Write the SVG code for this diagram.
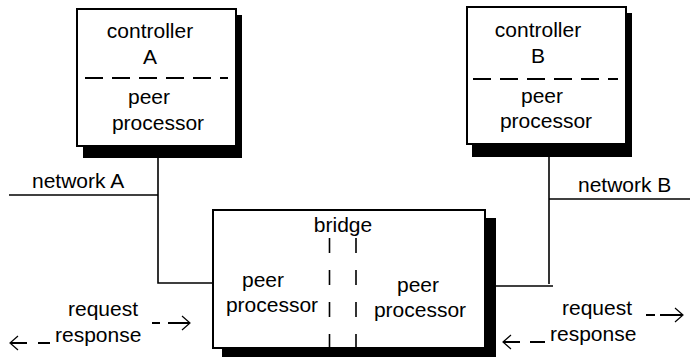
<svg xmlns="http://www.w3.org/2000/svg" width="690" height="357" viewBox="0 0 690 357">
<style>
text{font-family:"Liberation Sans",Arial,sans-serif;font-size:21px;fill:#000;text-anchor:middle}
.lbl{text-anchor:start}
.box{fill:#fff;stroke:#000;stroke-width:2}
.shadow{fill:#000}
.ln{stroke:#000;stroke-width:1.6;fill:none}
.dash{stroke:#000;stroke-width:2;fill:none}
.arr{stroke:#000;stroke-width:2;fill:none}
.head{stroke:#000;stroke-width:1.2;fill:none}
</style>
<rect width="690" height="357" fill="#fff"/>
<g id="controllerA">
<rect class="shadow" x="83" y="15" width="159" height="143"/>
<rect class="box" x="77" y="9" width="159" height="137"/>
<line class="dash" x1="85" y1="78" x2="228" y2="78" stroke-dasharray="18 9"/>
<text x="150" y="38">controller</text>
<text x="150" y="64">A</text>
<text x="149" y="104">peer</text>
<text x="158" y="130">processor</text>
</g>
<g id="controllerB">
<rect class="shadow" x="472" y="13" width="160" height="144"/>
<rect class="box" x="467" y="7" width="159" height="137"/>
<line class="dash" x1="473" y1="79" x2="618" y2="79" stroke-dasharray="18 9"/>
<text x="538" y="37">controller</text>
<text x="538" y="63">B</text>
<text x="542" y="103">peer</text>
<text x="546" y="128">processor</text>
</g>
<g id="bridge">
<rect class="shadow" x="222" y="218" width="274" height="139"/>
<rect class="box" x="213" y="210" width="272" height="138"/>
<text x="343" y="232">bridge</text>
<line class="ln" x1="329.5" y1="238" x2="329.5" y2="348" stroke-dasharray="15 17"/>
<line class="ln" x1="356" y1="238" x2="356" y2="348" stroke-dasharray="15 17"/>
<text x="263" y="287">peer</text>
<text x="272" y="312">processor</text>
<text x="418" y="292">peer</text>
<text x="420" y="317">processor</text>
</g>
<g id="connectors">
<polyline class="ln" points="158,157 158,283 213,283"/>
<line class="ln" x1="9" y1="195" x2="158" y2="195"/>
<polyline class="ln" points="549,157 549,284"/>
<line class="ln" x1="496" y1="286" x2="553" y2="286"/>
<line class="ln" x1="549" y1="199" x2="690" y2="199"/>
<g id="arrows">
<path class="arr" d="M152 323H160M168 323H189"/>
<path class="head" d="M182 316L190 323L182 330"/>
<path class="arr" d="M11 343H27M38 343H50"/>
<path class="head" d="M18 336L10 343L18 350"/>
<path class="arr" d="M646 315H655M660 315H682"/>
<path class="head" d="M675 308L683 315L675 322"/>
<path class="arr" d="M504 342H520M530 342H545"/>
<path class="head" d="M511 335L503 342L511 349"/>
</g>
</g>
<g id="labels">
<text class="lbl" x="32" y="188">network A</text>
<text class="lbl" x="578" y="192">network B</text>
<text class="lbl" x="68" y="316">request</text>
<text class="lbl" x="55" y="342">response</text>
<text class="lbl" x="562" y="315">request</text>
<text class="lbl" x="550" y="341">response</text>
</g>
</svg>
